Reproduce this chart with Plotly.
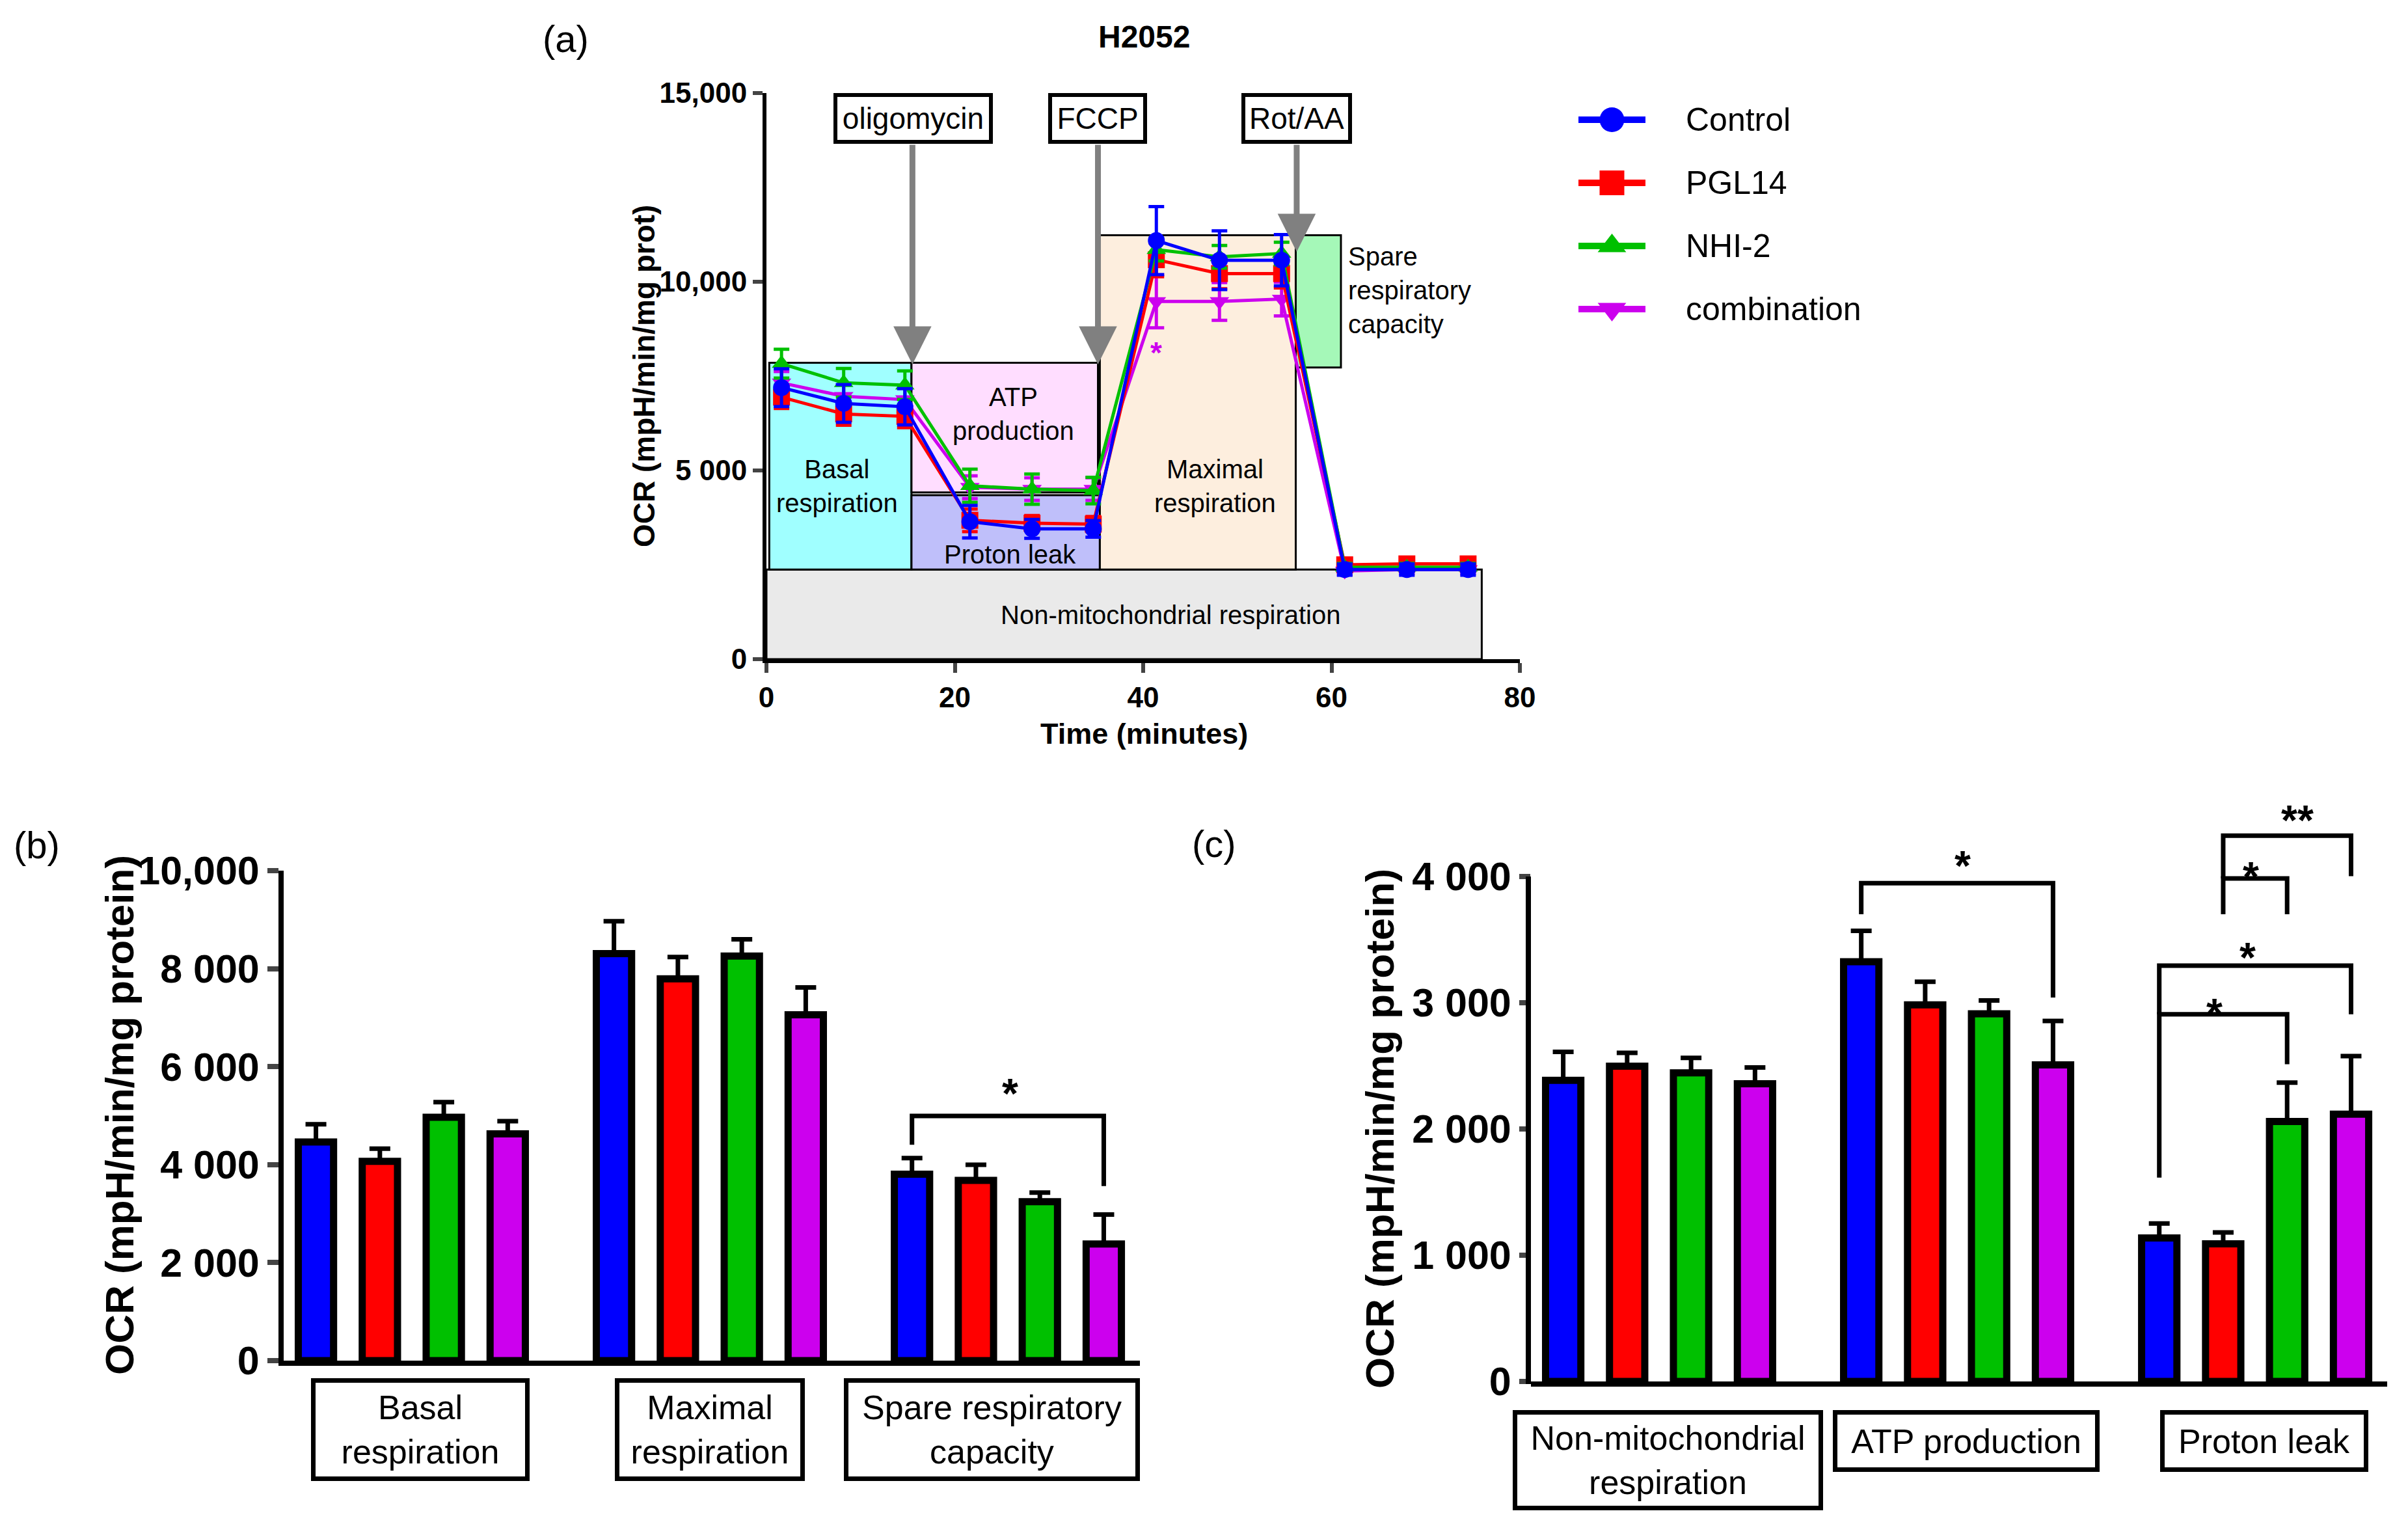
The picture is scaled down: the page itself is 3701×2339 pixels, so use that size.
import plotly.graph_objects as go

W, H = 3701, 2339
FONT = "Liberation Sans, Arial, Helvetica, sans-serif"

# ------------------------------------------------------------------ data
series_names = ["Control", "PGL14", "NHI-2", "combination"]
series_colors = ["#0000FF", "#FF0000", "#00C000", "#CC00EE"]
series_symbols = ["circle", "square", "triangle-up", "triangle-down"]

# (a) time course
time_min = [1.6, 8.2, 14.7, 21.6, 28.2, 34.7, 41.4, 48.1, 54.7, 61.4, 68.0, 74.5]
ocr_control = [7195, 6777, 6688, 3642, 3452, 3452, 11091, 10571, 10571, 2373, 2373, 2373]
ocr_control_err = [500, 500, 480, 430, 250, 220, 900, 780, 680, 150, 150, 150]
ocr_pgl14 = [6942, 6497, 6434, 3680, 3604, 3579, 10584, 10216, 10216, 2500, 2525, 2525]
ocr_pgl14_err = [300, 300, 300, 300, 200, 200, 450, 400, 380, 120, 120, 120]
ocr_nhi2 = [7830, 7322, 7259, 4594, 4505, 4467, 10850, 10660, 10749, 2437, 2437, 2437]
ocr_nhi2_err = [380, 380, 380, 440, 400, 350, 300, 300, 300, 100, 100, 100]
ocr_comb = [7322, 6967, 6878, 4556, 4505, 4505, 9480, 9480, 9543, 2335, 2373, 2373]
ocr_comb_err = [300, 300, 300, 300, 300, 300, 700, 500, 450, 100, 100, 100]

a_yticks = [0, 5000, 10000, 15000]
a_yticklabels = ["0", "5 000", "10,000", "15,000"]
a_xticks = [0, 20, 40, 60, 80]

# (b) bar chart
b_groups = ["Basal respiration", "Maximal respiration", "Spare respiratory capacity"]
b_labels = ["Basal<br>respiration", "Maximal<br>respiration", "Spare respiratory<br>capacity"]
b_control = [4463, 8306, 3804]
b_control_err = [360, 660, 330]
b_pgl14 = [4066, 7793, 3679]
b_pgl14_err = [260, 445, 320]
b_nhi2 = [4966, 8258, 3243]
b_nhi2_err = [310, 340, 185]
b_comb = [4627, 7057, 2381]
b_comb_err = [260, 560, 600]
b_yticks = [0, 2000, 4000, 6000, 8000, 10000]
b_yticklabels = ["0", "2 000", "4 000", "6 000", "8 000", "10,000"]

# (c) bar chart
c_groups = ["Non-mitochondrial respiration", "ATP production", "Proton leak"]
c_labels = ["Non-mitochondrial<br>respiration", "ATP production", "Proton leak"]
c_control = [2385, 3325, 1137]
c_control_err = [226, 245, 115]
c_pgl14 = [2498, 2983, 1090]
c_pgl14_err = [105, 183, 90]
c_nhi2 = [2445, 2913, 2060]
c_nhi2_err = [118, 106, 308]
c_comb = [2358, 2508, 2118]
c_comb_err = [129, 348, 460]
c_yticks = [0, 1000, 2000, 3000, 4000]
c_yticklabels = ["0", "1 000", "2 000", "3 000", "4 000"]

# significance brackets: (group, left bar, right bar, bar height, left leg end, right leg end, label, label y, label x fraction)
b_sig = [(2, 0, 3, 4995, 4405, 3562, "*", 5644, 0.51)]
c_sig = [
    (1, 0, 3, 3947, 3702, 3042, "*", 4162, 0.53),
    (2, 0, 2, 2909, 1615, 2513, "*", 2992, 0.43),
    (2, 0, 3, 3294, 2909, 2909, "*", 3431, 0.46),
    (2, 1, 2, 3985, 3702, 3702, "*", 4073, 0.43),
    (2, 1, 3, 4324, 3985, 4003, "**", 4522, 0.58),
]

# ------------------------------------------------------------------ layout helpers
def px(p):
    return p / W


def py(p):
    return 1 - p / H


BARGAP = 0.142
BARGROUPGAP = 0.448
SLOT = (1 - BARGAP) / 4


def bar_center(group, i):
    return group + (i - 1.5) * SLOT


fig = go.Figure()

# ------------------------------------------------------------------ (a)
a_series = [
    (3, ocr_comb, ocr_comb_err),
    (1, ocr_pgl14, ocr_pgl14_err),
    (2, ocr_nhi2, ocr_nhi2_err),
    (0, ocr_control, ocr_control_err),
]
for k, vals, errs in a_series:
    fig.add_trace(go.Scatter(
        x=time_min, y=vals, name=series_names[k], mode="lines+markers",
        line=dict(color=series_colors[k], width=5),
        marker=dict(symbol=series_symbols[k], size=26, color=series_colors[k]),
        error_y=dict(type="data", array=errs, color=series_colors[k], thickness=5, width=12),
        xaxis="x", yaxis="y", showlegend=False,
    ))

# ------------------------------------------------------------------ (b) & (c)
b_series = [(b_control, b_control_err), (b_pgl14, b_pgl14_err), (b_nhi2, b_nhi2_err), (b_comb, b_comb_err)]
c_series = [(c_control, c_control_err), (c_pgl14, c_pgl14_err), (c_nhi2, c_nhi2_err), (c_comb, c_comb_err)]
b_x = list(range(len(b_groups)))
c_x = list(range(len(c_groups)))
for k, (vals, errs) in enumerate(b_series):
    fig.add_trace(go.Bar(
        x=b_x, y=vals, name=series_names[k],
        marker=dict(color=series_colors[k], line=dict(color="black", width=11)),
        error_y=dict(type="data", array=errs, arrayminus=[0] * len(errs), symmetric=False,
                     color="black", thickness=7, width=16),
        xaxis="x2", yaxis="y2", showlegend=False,
    ))
for k, (vals, errs) in enumerate(c_series):
    fig.add_trace(go.Bar(
        x=c_x, y=vals, name=series_names[k],
        marker=dict(color=series_colors[k], line=dict(color="black", width=11)),
        error_y=dict(type="data", array=errs, arrayminus=[0] * len(errs), symmetric=False,
                     color="black", thickness=7, width=16),
        xaxis="x3", yaxis="y3", showlegend=False,
    ))

# ------------------------------------------------------------------ legend (drawn on a hidden axis)
for k, name in enumerate(series_names):
    fig.add_trace(go.Scatter(x=[0, 1], y=[k, k], mode="lines",
                             line=dict(color=series_colors[k], width=10),
                             xaxis="x4", yaxis="y4", showlegend=False, hoverinfo="skip"))
    fig.add_trace(go.Scatter(x=[0.5], y=[k], mode="markers",
                             marker=dict(symbol=series_symbols[k], size=38, color=series_colors[k]),
                             xaxis="x4", yaxis="y4", showlegend=False, hoverinfo="skip"))

annotations = []
shapes = []

for k, name in enumerate(series_names):
    annotations.append(dict(text=name, x=px(2581), y=k, xref="paper", yref="y4",
                            xanchor="left", yanchor="middle", showarrow=False,
                            font=dict(family=FONT, size=50, color="black")))

# ------------------------------------------------------------------ (a) regions
regions = [
    ("Non-mitochondrial respiration", 0, 75.95, 0, 2373, "#EAEAEA", 42.9, 1168, "center"),
    ("Basal<br>respiration", 0.3, 15.4, 2373, 7855, "#A0FFFF", 7.5, 4594, "center"),
    ("ATP<br>production", 15.4, 35.2, 4420, 7855, "#FFDDFF", 26.2, 6497, "center"),
    ("Proton leak", 15.4, 35.4, 2373, 4345, "#BFBFFA", 25.9, 2779, "center"),
    ("Maximal<br>respiration", 35.4, 56.2, 2373, 11231, "#FDEEDE", 47.6, 4594, "center"),
    ("Spare<br>respiratory<br>capacity", 56.2, 61.0, 7728, 11231, "#A5F8B8", 61.6, 9772, "left"),
]
for text, x0, x1, y0, y1, col, tx, ty, anc in regions:
    shapes.append(dict(type="rect", xref="x", yref="y", x0=x0, x1=x1, y0=y0, y1=y1,
                       fillcolor=col, line=dict(color="black", width=3), layer="below"))
    annotations.append(dict(text=text, x=tx, y=ty, xref="x", yref="y", showarrow=False,
                            xanchor=anc, align=anc, yanchor="middle",
                            font=dict(family=FONT, size=40, color="black")))

# injections
injections = [("oligomycin", 15.55, 243, 15.5, 7810), ("FCCP", 35.15, 150, 35.2, 7810),
              ("Rot/AA", 56.3, 168, 56.3, 10793)]
for text, bx, bw, ax_, tip in injections:
    annotations.append(dict(x=ax_, y=tip, ax=ax_, ay=13655, xref="x", yref="y", axref="x", ayref="y",
                            text="", showarrow=True, arrowhead=2, arrowsize=1.3, arrowwidth=9,
                            arrowcolor="#808080", standoff=0))
    annotations.append(dict(text=text, x=bx, y=14328, xref="x", yref="y", showarrow=False,
                            xanchor="center", yanchor="middle", width=bw - 10, height=66,
                            bordercolor="black", borderwidth=6, borderpad=0, bgcolor="white",
                            font=dict(family=FONT, size=46, color="black")))

annotations.append(dict(text="*", x=41.4, y=8312, xref="x", yref="y", showarrow=False,
                        xanchor="center", yanchor="middle", yshift=-11,
                        font=dict(family=FONT, size=46, color=series_colors[3], weight="bold")))

# ------------------------------------------------------------------ category boxes
for g, lab in enumerate(b_labels):
    widths = [336, 292, 455]
    shifts = [13, 0, -25]
    annotations.append(dict(text=lab, x=g, y=py(2189), xref="x2", yref="paper", showarrow=False,
                            xshift=shifts[g], xanchor="center", yanchor="middle",
                            width=widths[g] - 14, height=158 - 14, borderpad=0,
                            bordercolor="black", borderwidth=7, bgcolor="white",
                            font=dict(family=FONT, size=52, color="black")))
for g, lab in enumerate(c_labels):
    widths = [477, 410, 320]
    heights = [154, 95, 95]
    annotations.append(dict(text=lab, x=g, y=py(2159 + heights[g] / 2), xref="x3", yref="paper",
                            showarrow=False, xshift=14, xanchor="center", yanchor="middle",
                            width=widths[g] - 14, height=heights[g] - 14, borderpad=0,
                            bordercolor="black", borderwidth=7, bgcolor="white",
                            font=dict(family=FONT, size=52, color="black")))

# ------------------------------------------------------------------ significance brackets
for xr, yr, sig in (("x2", "y2", b_sig), ("x3", "y3", c_sig)):
    for g, il, ir, yh, yl, yrr, lab, ly, frac in sig:
        xl, xrr = bar_center(g, il), bar_center(g, ir)
        shapes.append(dict(type="path", xref=xr, yref=yr,
                           path=f"M {xl},{yl} L {xl},{yh} L {xrr},{yh} L {xrr},{yrr}",
                           line=dict(color="black", width=7)))
        annotations.append(dict(text=lab, x=xl + frac * (xrr - xl), y=ly, xref=xr, yref=yr,
                                showarrow=False, yshift=-15, xanchor="center", yanchor="middle",
                                font=dict(family=FONT, size=64, color="black", weight="bold")))

# ------------------------------------------------------------------ titles and panel labels
def paper_text(text, x, y, size, bold=False, angle=0):
    f = dict(family=FONT, size=size, color="black")
    if bold:
        f["weight"] = "bold"
    return dict(text=text, x=px(x), y=py(y), xref="paper", yref="paper", showarrow=False,
                xanchor="center", yanchor="middle", textangle=angle, font=f)


annotations += [
    paper_text("H2052", 1750, 48, 48, bold=True),
    paper_text("(a)", 861, 52, 58),
    paper_text("(b)", 48, 1290, 58),
    paper_text("(c)", 1858, 1288, 58),
    paper_text("Time (minutes)", 1750, 1119, 45, bold=True),
    paper_text("OCR (mpH/min/mg prot)", 982, 570, 46, bold=True, angle=-90),
    paper_text("OCR (mpH/min/mg protein)", 175, 1706, 62, bold=True, angle=-90),
    paper_text("OCR (mpH/min/mg protein)", 2112, 1727, 62, bold=True, angle=-90),
]

# y axis line of (c) only up to the last tick
C_Y0, C_YTOP, C_RANGE_TOP = 2115, 1213, 4650
c_dom = [py(C_Y0), py(C_YTOP)]
y4000 = c_dom[0] + (c_yticks[-1] / C_RANGE_TOP) * (c_dom[1] - c_dom[0])
shapes.append(dict(type="line", xref="paper", yref="paper", x0=px(2345 - 4), x1=px(2345 - 4),
                   y0=c_dom[0] - 4 / H, y1=y4000, line=dict(color="black", width=8)))

# ------------------------------------------------------------------ axes
tick_a = dict(family=FONT, size=44, color="black", weight="bold")
tick_bc = dict(family=FONT, size=61, color="black", weight="bold")

fig.update_layout(
    width=W, height=H, margin=dict(l=0, r=0, t=0, b=0),
    template="none", paper_bgcolor="white", plot_bgcolor="rgba(0,0,0,0)",
    showlegend=False, barmode="group", bargap=BARGAP, bargroupgap=BARGROUPGAP,
    xaxis=dict(domain=[px(1170), px(2328)], range=[0, 80], tickvals=a_xticks,
               ticks="outside", ticklen=15, tickwidth=6, showline=True, linewidth=6, linecolor="black",
               tickfont=tick_a, showgrid=False, zeroline=False, anchor="y"),
    yaxis=dict(domain=[py(1005), py(135)], range=[0, 15000], tickvals=a_yticks, ticktext=a_yticklabels,
               ticks="outside", ticklen=15, tickwidth=6, showline=True, linewidth=6, linecolor="black",
               tickfont=tick_a, showgrid=False, zeroline=False, anchor="x"),
    xaxis2=dict(domain=[px(428), px(1744)], range=[-0.43, 2.443], showticklabels=False, ticks="",
                showline=True, linewidth=8, linecolor="black", showgrid=False, zeroline=False, anchor="y2"),
    yaxis2=dict(domain=[py(2083), py(1330)], range=[0, 10000], tickvals=b_yticks, ticktext=b_yticklabels,
                ticks="outside", ticklen=17, tickwidth=8, showline=True, linewidth=8, linecolor="black",
                tickfont=tick_bc, showgrid=False, zeroline=False, anchor="x2"),
    xaxis3=dict(domain=[px(2345), px(3661)], range=[-0.43, 2.443], showticklabels=False, ticks="",
                showline=True, linewidth=8, linecolor="black", showgrid=False, zeroline=False, anchor="y3"),
    yaxis3=dict(domain=c_dom, range=[0, C_RANGE_TOP], tickvals=c_yticks, ticktext=c_yticklabels,
                ticks="outside", ticklen=17, tickwidth=8, showline=False,
                tickfont=tick_bc, showgrid=False, zeroline=False, anchor="x3"),
    xaxis4=dict(domain=[px(2418), px(2521)], range=[0, 1], visible=False, anchor="y4"),
    yaxis4=dict(domain=[py(515.5), py(127.5)], range=[3.5, -0.5], visible=False, anchor="x4"),
    annotations=annotations, shapes=shapes,
)

fig.write_html("out.html")
